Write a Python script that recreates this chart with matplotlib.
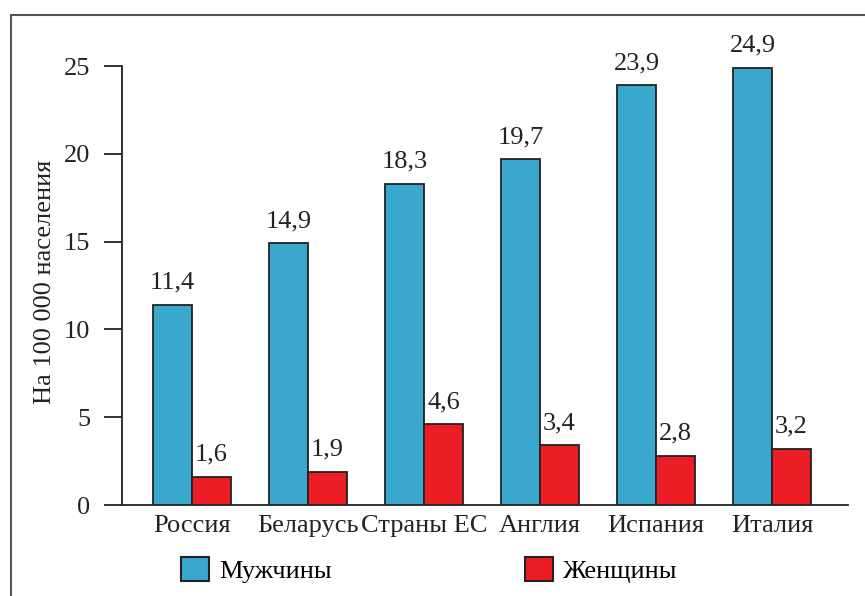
import matplotlib
matplotlib.use("Agg")
import matplotlib.pyplot as plt
from matplotlib.patches import Rectangle, Patch
import numpy as np

countries = ["Россия", "Беларусь", "Страны ЕС", "Англия", "Испания", "Италия"]
men = [11.4, 14.9, 18.3, 19.7, 23.9, 24.9]
women = [1.6, 1.9, 4.6, 3.4, 2.8, 3.2]
series_names = ["Мужчины", "Женщины"]
yticks = [0, 5, 10, 15, 20, 25]

BLUE = "#3AA7CD"
RED = "#EC1C24"
EDGE = "#222222"
FS = 19

plt.rcParams["font.family"] = ["Liberation Serif", "DejaVu Serif"]
plt.rcParams["font.size"] = FS

W, H = 865, 596
fig = plt.figure(figsize=(W / 100, H / 100), dpi=100)

# axes placement in pixels
left_px, right_px, top_px, bottom_px = 122, 848, 66, 505
ax = fig.add_axes([left_px / W, 1 - bottom_px / H,
                   (right_px - left_px) / W, (bottom_px - top_px) / H])

x = np.arange(len(countries))
bw = 0.336
ax.bar(x - bw / 2, men, bw, color=BLUE, edgecolor=EDGE, linewidth=1.3, zorder=3)
ax.bar(x + bw / 2, women, bw, color=RED, edgecolor=EDGE, linewidth=1.3, zorder=3)

def fmt(v):
    return f"{v:.1f}".replace(".", ",")

for xs, vals in ((x - bw / 2, men), (x + bw / 2, women)):
    for xi, v in zip(xs, vals):
        ax.annotate(fmt(v), (xi, v), xytext=(0, 8), textcoords="offset points",
                    ha="center", va="bottom", fontsize=FS, color="#222222",
                    annotation_clip=False)

ax.set_xlim(-0.603, 5.655)
ax.set_ylim(0, 25)
ax.set_yticks(yticks)
ax.set_yticklabels([str(t) for t in yticks])
ax.set_xticks(x)
ax.set_xticklabels(countries)
ax.tick_params(axis="x", length=0, pad=7, colors="#222222", labelsize=FS)
ax.tick_params(axis="y", length=13, width=1.3, pad=10, colors="#222222", labelsize=FS)
for s in ["top", "right"]:
    ax.spines[s].set_visible(False)
for s in ["left", "bottom"]:
    ax.spines[s].set_linewidth(1.3)
    ax.spines[s].set_color("#222222")

fig.text(45 / W, 1 - 282 / H, "На 100 000 населения", rotation=90,
         ha="center", va="center", fontsize=FS, color="#222222")

# legend
handles = [Patch(facecolor=BLUE, edgecolor=EDGE, linewidth=1.5),
           Patch(facecolor=RED, edgecolor=EDGE, linewidth=1.5)]
fig.legend(handles, series_names, ncol=2, frameon=False,
           loc="center left", bbox_to_anchor=(181 / W, 1 - 570 / H),
           borderpad=0, borderaxespad=0,
           handlelength=1.06, handleheight=1.02, handletextpad=0.4,
           columnspacing=7.3, fontsize=FS)

# outer frame
fig.patches.append(Rectangle((11 / W, -0.1), 1.2, 1 - 15 / H + 0.1,
                             transform=fig.transFigure, fill=False,
                             edgecolor="#555555", linewidth=1.5))

fig.savefig("out.png", dpi=100)
